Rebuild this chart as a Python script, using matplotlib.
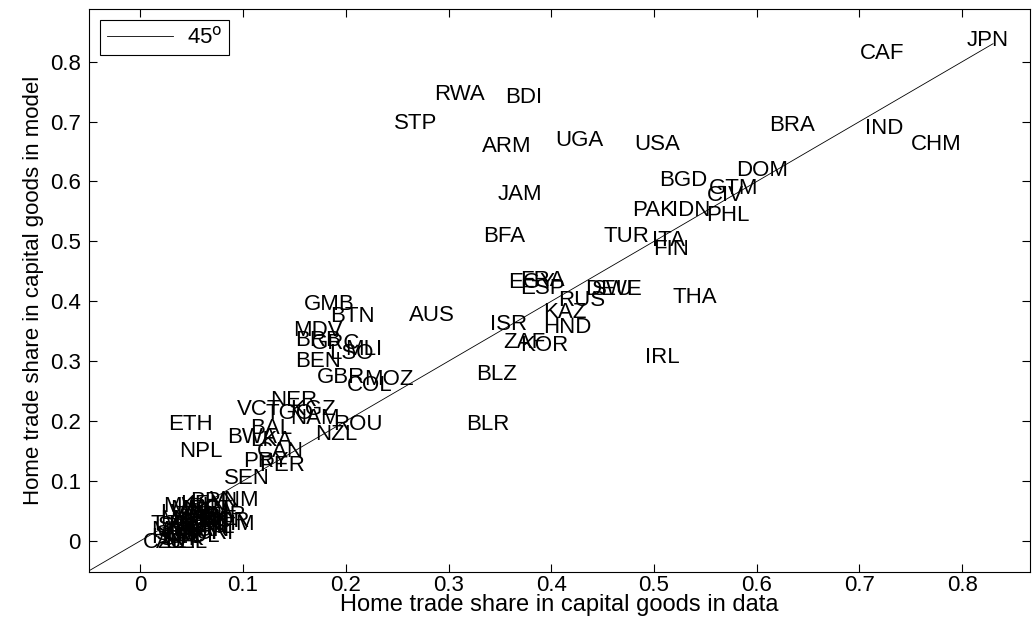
import numpy as np
import matplotlib
matplotlib.use("Agg")
import matplotlib.pyplot as plt

plt.rcParams['font.family'] = ['Liberation Sans', 'DejaVu Sans']

# country codes, home trade share in data (x) and in model (y)
codes = ["JPN", "CAF", "BRA", "IND", "CHM", "USA", "UGA", "ARM", "BDI", "RWA",
         "STP", "DOM", "BGD", "GTM", "CIV", "JAM", "PAK", "IDN", "PHL", "BFA",
         "TUR", "ITA", "FIN", "EGY", "FRA", "ESP", "DEU", "SWE", "RUS", "THA",
         "KAZ", "ISR", "HND", "ZAF", "KOR", "IRL", "BLZ", "BLR", "GMB", "BTN",
         "AUS", "MDV", "BRB", "GRC", "MLI", "LSO", "BEN", "GBR", "MOZ", "COL",
         "NER", "VCT", "KGZ", "TGO", "NAM", "ROU", "ETH", "BAL", "NZL", "BWA",
         "LKA", "CAN", "NPL", "PRY", "PER", "SEN", "BRN", "VNM",
         "MWI", "MNG", "KEN", "TZA", "GHA", "CMR", "KHM", "TJK", "MAR", "TUN",
         "MEX", "CHL", "ARG", "URY", "PAN", "CRI", "SLV", "NIC", "POL", "HUN",
         "SVK", "CZE", "AUT", "BEL", "NLD", "DNK", "CHE", "NOR", "PRT", "SVN",
         "EST", "LVA", "MYS", "SGP"]
data_share = [0.804, 0.700, 0.612, 0.705, 0.750, 0.481, 0.404, 0.333, 0.355, 0.286,
              0.247, 0.580, 0.505, 0.553, 0.551, 0.348, 0.479, 0.518, 0.551, 0.334,
              0.451, 0.498, 0.499, 0.358, 0.370, 0.370, 0.433, 0.440, 0.407, 0.518,
              0.392, 0.340, 0.392, 0.353, 0.370, 0.491, 0.327, 0.317, 0.159, 0.185,
              0.261, 0.149, 0.151, 0.166, 0.199, 0.184, 0.151, 0.172, 0.218, 0.201,
              0.126, 0.094, 0.146, 0.122, 0.146, 0.188, 0.027, 0.107, 0.170, 0.084,
              0.107, 0.113, 0.038, 0.100, 0.116, 0.081, 0.048, 0.068,
              0.022, 0.029, 0.039, 0.034, 0.044, 0.054, 0.063, 0.010, 0.019, 0.029,
              0.039, 0.049, 0.024, 0.034, 0.044, 0.054, 0.015, 0.024, 0.034, 0.010,
              0.019, 0.002, 0.015, 0.024, 0.031, 0.041, 0.049, 0.058, 0.027, 0.037,
              0.047, 0.019, 0.010, 0.017]
model_share = [0.836, 0.813, 0.693, 0.688, 0.661, 0.661, 0.669, 0.658, 0.740, 0.746,
               0.696, 0.618, 0.601, 0.589, 0.576, 0.579, 0.551, 0.551, 0.543, 0.508,
               0.508, 0.501, 0.486, 0.432, 0.434, 0.421, 0.419, 0.419, 0.402, 0.407,
               0.382, 0.362, 0.356, 0.331, 0.326, 0.306, 0.277, 0.194, 0.394, 0.374,
               0.377, 0.352, 0.334, 0.329, 0.319, 0.312, 0.299, 0.272, 0.270, 0.259,
               0.234, 0.220, 0.220, 0.212, 0.205, 0.194, 0.194, 0.187, 0.177, 0.172,
               0.167, 0.150, 0.149, 0.132, 0.125, 0.104, 0.065, 0.068,
               0.057, 0.052, 0.060, 0.043, 0.048, 0.043, 0.028, 0.028, 0.035, 0.027,
               0.032, 0.023, 0.018, 0.013, 0.018, 0.013, 0.010, 0.005, 0.007, 0.005,
               0.002, -0.003, -0.003, -0.002, 0.035, 0.038, 0.035, 0.032, 0.022, 0.025,
               0.052, 0.045, 0.018, 0.025]

line_ends = [-0.05, 0.83]
ticks = [0, 0.1, 0.2, 0.3, 0.4, 0.5, 0.6, 0.7, 0.8]

fig = plt.figure(figsize=(10.36, 6.25), dpi=100)
ax = fig.add_axes([0.0859, 0.0848, 0.9083, 0.9008])

ax.plot(line_ends, line_ends, color='k', lw=0.6, label='45$^\\mathrm{o}$')
for c, xv, yv in zip(codes, data_share, model_share):
    ax.text(xv, yv, c, ha='left', va='center', fontsize=16, color='k')

ax.set_xlim(-0.05, 0.866)
ax.set_ylim(-0.052, 0.888)
ax.set_xticks(ticks)
ax.set_yticks(ticks)
ax.set_xticklabels([f"{t:g}" for t in ticks])
ax.set_yticklabels([f"{t:g}" for t in ticks])
ax.tick_params(direction='in', length=6, width=0.8, top=True, right=True, labelsize=16)
ax.tick_params(axis='x', pad=2)
ax.tick_params(axis='y', pad=6)
for s in ax.spines.values():
    s.set_linewidth(0.8)

ax.set_xlabel("Home trade share in capital goods in data", fontsize=17, labelpad=-1)
ax.set_ylabel("Home trade share in capital goods in model", fontsize=16, labelpad=4)

leg = ax.legend(loc='upper left', fontsize=16, fancybox=False, edgecolor='k',
                framealpha=1, handlelength=3.0, borderaxespad=0.5,
                borderpad=0.3, handletextpad=0.6)
leg.get_frame().set_linewidth(0.8)

fig.savefig("out.png", dpi=100)
